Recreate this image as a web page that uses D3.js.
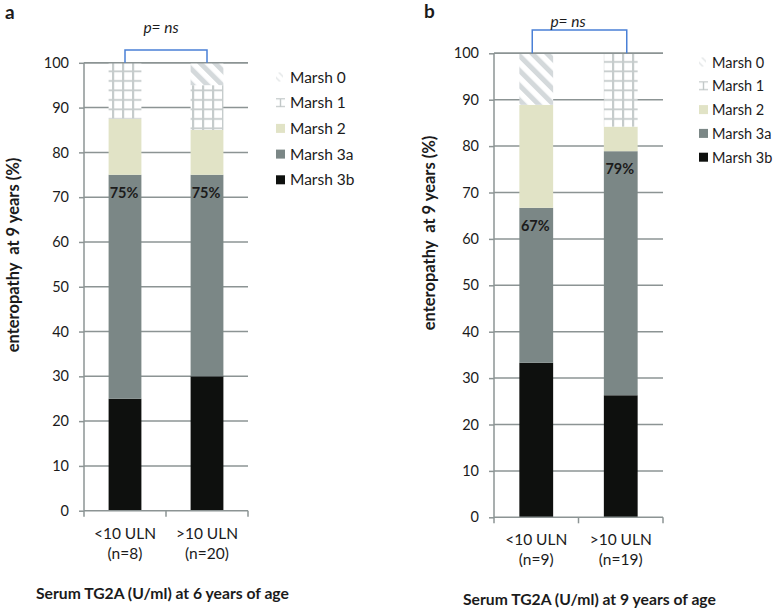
<!DOCTYPE html>
<html><head><meta charset="utf-8">
<script src="https://cdn.jsdelivr.net/npm/d3@7"></script>
<style>
html,body{margin:0;padding:0;background:#fff;}
svg{display:block;}
text{font-family:Lato,"Open Sans",sans-serif;fill:#1b1b1b;}
</style></head>
<body>
<svg id="chart" width="777" height="611"></svg>
<script>
// ---- data ----
const seriesNames = ["Marsh 3b", "Marsh 3a", "Marsh 2", "Marsh 1", "Marsh 0"];
const legendOrder = ["Marsh 0", "Marsh 1", "Marsh 2", "Marsh 3a", "Marsh 3b"];
const yTicks = [0, 10, 20, 30, 40, 50, 60, 70, 80, 90, 100];

const categoriesA = ["<10 ULN", ">10 ULN"];
const countsA = ["(n=8)", "(n=20)"];
const marsh3bA = [25, 30];
const marsh3aA = [50, 45];
const marsh2A = [12.5, 10];
const marsh1A = [12.5, 10];
const marsh0A = [0, 5];
const pctLabelsA = ["75%", "75%"];

const categoriesB = ["<10 ULN", ">10 ULN"];
const countsB = ["(n=9)", "(n=19)"];
const marsh3bB = [33.3, 26.3];
const marsh3aB = [33.4, 52.6];
const marsh2B = [22.2, 5.3];
const marsh1B = [0, 15.8];
const marsh0B = [11.1, 0];
const pctLabelsB = ["67%", "79%"];

const titleA = "Serum TG2A (U/ml) at 6 years of age";
const titleB = "Serum TG2A (U/ml) at 9 years of age";
const yTitle = "enteropathy  at 9 years (%)";
const pText = "p= ns";

// ---- styles ----
const fills = {
  "Marsh 3b": "#0e100e",
  "Marsh 3a": "#7b8786",
  "Marsh 2": "#e1e3c6",
  "Marsh 1": "url(#grid)",
  "Marsh 0": "url(#diag)"
};
const legendFills = {
  "Marsh 3b": "#0e100e",
  "Marsh 3a": "#7b8786",
  "Marsh 2": "#e1e3c6",
  "Marsh 1": "url(#gridSmall)",
  "Marsh 0": "url(#diagSmall)"
};
const gridColor = "#8c9494";

const svg = d3.select("#chart");
const defs = svg.append("defs");
// grid pattern (Marsh 1)
const pg = defs.append("pattern").attr("id", "grid").attr("patternUnits", "userSpaceOnUse")
  .attr("width", 10).attr("height", 9.5);
pg.append("rect").attr("width", 10).attr("height", 9.5).attr("fill", "#fff");
pg.append("rect").attr("x", 0).attr("y", 4).attr("width", 10).attr("height", 1.8).attr("fill", "#c6cccc");
pg.append("rect").attr("x", 2).attr("y", 0).attr("width", 2.2).attr("height", 9.5).attr("fill", "#c6cccc");
// diagonal pattern (Marsh 0)
const pd = defs.append("pattern").attr("id", "diag").attr("patternUnits", "userSpaceOnUse")
  .attr("width", 10.5).attr("height", 10.5).attr("patternTransform", "rotate(-45)");
pd.append("rect").attr("width", 10.5).attr("height", 10.5).attr("fill", "#fff");
pd.append("rect").attr("x", 0).attr("y", 0).attr("width", 5).attr("height", 10.5).attr("fill", "#d4d9db");
// small legend versions
const pgs = defs.append("pattern").attr("id", "gridSmall").attr("patternUnits", "objectBoundingBox")
  .attr("width", 1).attr("height", 1);
pgs.append("rect").attr("width", 9).attr("height", 9).attr("fill", "#fff");
pgs.append("rect").attr("x", 0).attr("y", 0).attr("width", 9).attr("height", 1.2).attr("fill", "#c2c8c8");
pgs.append("rect").attr("x", 0).attr("y", 7.8).attr("width", 9).attr("height", 1.2).attr("fill", "#c2c8c8");
pgs.append("rect").attr("x", 3.8).attr("y", 0).attr("width", 1.4).attr("height", 9).attr("fill", "#c2c8c8");
const pds = defs.append("pattern").attr("id", "diagSmall").attr("patternUnits", "objectBoundingBox")
  .attr("width", 1).attr("height", 1);
pds.append("rect").attr("width", 9).attr("height", 9).attr("fill", "#fff");
pds.append("path").attr("d", "M0,4 L5,9 L3,9 L0,6Z M4,0 L7,3 L7,5 L2,0Z").attr("fill", "#e3e6e7");

function panel(cfg) {
  const g = svg.append("g");
  const x = d3.scaleBand().domain(cfg.categories).range([cfg.x0, cfg.x1])
    .paddingInner(0.6).paddingOuter(0.3);
  const y = d3.scaleLinear().domain([0, 100]).range([cfg.y0, cfg.y1]);

  // gridlines
  g.append("g").selectAll("line").data(yTicks.slice(1)).join("line")
    .attr("x1", cfg.x0).attr("x2", cfg.x1)
    .attr("y1", d => y(d)).attr("y2", d => y(d))
    .attr("stroke", gridColor).attr("stroke-width", 1.5);

  // stacked bars
  const rows = cfg.categories.map((c, i) => ({
    cat: c,
    "Marsh 3b": cfg.m3b[i], "Marsh 3a": cfg.m3a[i], "Marsh 2": cfg.m2[i],
    "Marsh 1": cfg.m1[i], "Marsh 0": cfg.m0[i]
  }));
  const stacked = d3.stack().keys(seriesNames)(rows);
  stacked.forEach(s => {
    g.append("g").selectAll("rect").data(s.filter(d => d[1] - d[0] > 0)).join("rect")
      .attr("x", d => x(d.data.cat))
      .attr("width", x.bandwidth())
      .attr("y", d => y(d[1]))
      .attr("height", d => y(d[0]) - y(d[1]))
      .attr("fill", fills[s.key]);
  });

  // top gridline on top
  g.append("line").attr("x1", cfg.x0).attr("x2", cfg.x1)
    .attr("y1", y(100)).attr("y2", y(100))
    .attr("stroke", gridColor).attr("stroke-width", 1.5);

  // y axis
  const ya = d3.axisLeft(y).tickValues(yTicks).tickSize(5).tickPadding(10);
  const yg = g.append("g").attr("transform", `translate(${cfg.x0},0)`).call(ya);
  yg.select(".domain").attr("stroke", gridColor).attr("stroke-width", 1.5).attr("d", `M0,${cfg.y0}V${cfg.y1}`);
  yg.selectAll(".tick line").attr("stroke", gridColor).attr("stroke-width", 1.5);
  yg.selectAll(".tick text").attr("font-size", 14.5).attr("font-family", "Lato").attr("fill", "#1b1b1b");

  // x axis
  const xa = d3.axisBottom(x).tickSize(0).tickFormat("");
  const xg = g.append("g").attr("transform", `translate(0,${cfg.y0})`).call(xa);
  xg.select(".domain").attr("stroke", gridColor).attr("stroke-width", 1.5).attr("d", `M${cfg.x0},0H${cfg.x1}`);
  const step = x.step();
  const boundaries = [cfg.x0, cfg.x0 + step, cfg.x1];
  xg.selectAll("line.bt").data(boundaries).join("line").attr("class", "bt")
    .attr("x1", d => d).attr("x2", d => d).attr("y1", 0).attr("y2", 6)
    .attr("stroke", gridColor).attr("stroke-width", 1.5);

  // category labels
  cfg.categories.forEach((c, i) => {
    const cx = x(c) + x.bandwidth() / 2;
    g.append("text").attr("x", cx).attr("y", cfg.y0 + 28).attr("text-anchor", "middle")
      .attr("font-size", 15.5).text(c);
    g.append("text").attr("x", cx).attr("y", cfg.y0 + 48).attr("text-anchor", "middle")
      .attr("font-size", 15.5).text(cfg.counts[i]);
    // percent label
    const top = cfg.m3b[i] + cfg.m3a[i];
    g.append("text").attr("x", cx - 1).attr("y", y(top) + 23).attr("text-anchor", "middle")
      .attr("font-size", 14.5).attr("font-weight", "bold").text(cfg.pct[i]);
  });

  // bracket
  const bl = x(cfg.categories[0]) + x.bandwidth() / 2 + cfg.bOff[0];
  const br = x(cfg.categories[1]) + x.bandwidth() / 2 + cfg.bOff[1];
  g.append("path").attr("d", `M${bl},${y(100)}V${cfg.bTop}H${br}V${y(100)}`)
    .attr("fill", "none").attr("stroke", "#4a80d6").attr("stroke-width", 1.5);
  g.append("text").attr("x", cfg.pX).attr("y", cfg.pY).attr("text-anchor", "middle")
    .attr("font-size", 15.5).attr("font-style", "italic").text(pText);

  // panel letter
  g.append("text").attr("x", cfg.letterX).attr("y", cfg.letterY)
    .attr("font-family", "Liberation Sans, Arial, sans-serif")
    .attr("font-size", 19).attr("font-weight", "bold").text(cfg.letter);

  // y title
  g.append("text").attr("transform", `translate(${cfg.ytX},${cfg.ytY}) rotate(-90)`)
    .attr("text-anchor", "middle").attr("font-size", 16.5).attr("font-weight", "bold")
    .style("white-space", "pre").text(yTitle);

  // x title
  g.append("text").attr("x", cfg.xtX).attr("y", cfg.xtY)
    .attr("font-size", 15.7).attr("font-weight", "bold").text(cfg.xTitle);

  // legend
  legendOrder.forEach((name, i) => {
    const ly = cfg.legY + i * cfg.legStep;
    g.append("rect").attr("x", cfg.legX).attr("y", ly - 4.5).attr("width", 9).attr("height", 9)
      .attr("fill", legendFills[name]);
    g.append("text").attr("x", cfg.legX + cfg.legGap).attr("y", ly + 5.5)
      .attr("font-size", cfg.legFont).text(name);
  });
}

panel({
  categories: categoriesA, counts: countsA,
  m3b: marsh3bA, m3a: marsh3aA, m2: marsh2A, m1: marsh1A, m0: marsh0A, pct: pctLabelsA,
  x0: 84, x1: 248, y0: 510.7, y1: 62.8,
  bTop: 50, bOff: [0, 0], pX: 161, pY: 33,
  letter: "a", letterX: 5, letterY: 19,
  ytX: 19, ytY: 255, xTitle: titleA, xtX: 36, xtY: 599,
  legX: 276, legY: 77, legStep: 25.7, legGap: 14, legFont: 15.5
});
panel({
  categories: categoriesB, counts: countsB,
  m3b: marsh3bB, m3a: marsh3aB, m2: marsh2B, m1: marsh1B, m0: marsh0B, pct: pctLabelsB,
  x0: 494, x1: 663, y0: 517.3, y1: 53.3,
  bTop: 30, bOff: [-4, 6], pX: 568, pY: 27,
  letter: "b", letterX: 424, letterY: 18,
  ytX: 435, ytY: 233, xTitle: titleB, xtX: 463, xtY: 605,
  legX: 699, legY: 62, legStep: 23.8, legGap: 13, legFont: 14.5
});
</script>
</body></html>
